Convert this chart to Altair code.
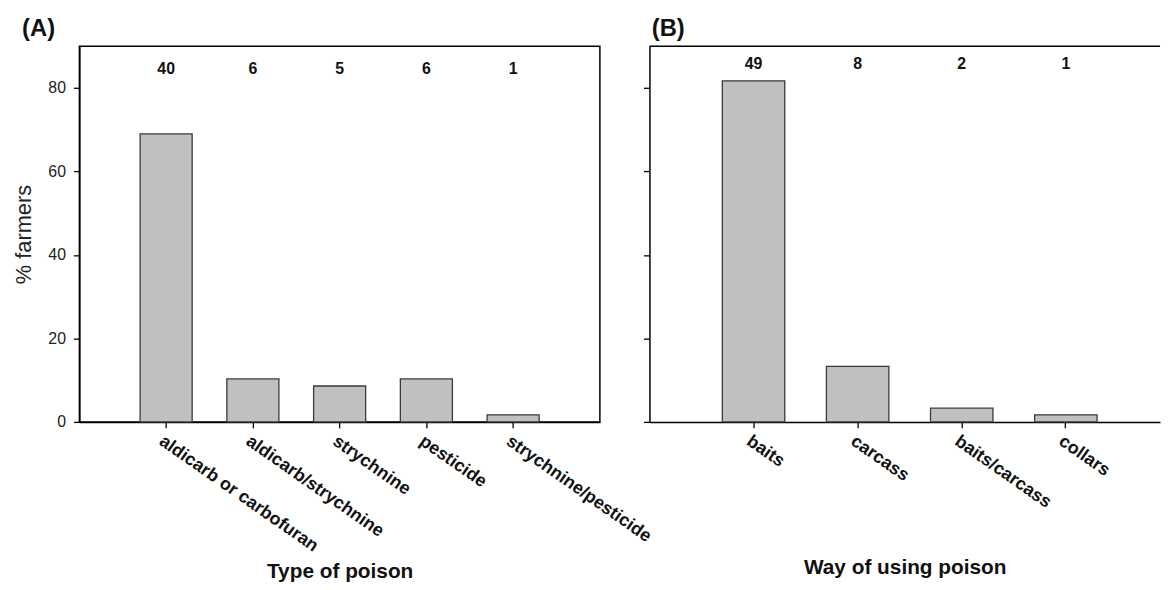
import altair as alt
import pandas as pd

# ---- data ----
poison_types = ["aldicarb or carbofuran", "aldicarb/strychnine", "strychnine",
                "pesticide", "strychnine/pesticide"]
poison_pct = [69.0, 10.3, 8.6, 10.3, 1.7]
poison_n = [40, 6, 5, 6, 1]

use_ways = ["baits", "carcass", "baits/carcass", "collars"]
use_pct = [81.7, 13.3, 3.3, 1.7]
use_n = [49, 8, 2, 1]

y_ticks = [0, 20, 40, 60, 80]

FONT = "Liberation Sans"
BAR_FILL = "#c0c0c0"
BAR_STROKE = "#3a3a3a"

dfA = pd.DataFrame({"cat": poison_types, "pct": poison_pct, "n": poison_n})
dfB = pd.DataFrame({"cat": use_ways, "pct": use_pct, "n": use_n})
frame_df = pd.DataFrame({"k": [0]})

W_A, W_B, H = 525, 515, 379

yscale = alt.Scale(domain=[0, 90], nice=False, zero=True)


def y_axis(show_labels, title):
    return alt.Axis(values=y_ticks, tickSize=6, labelPadding=8, labelFontSize=16,
                    labelFont=FONT, labelColor="#222", grid=False, labels=show_labels,
                    domainColor="#000", domainWidth=1.5, tickColor="#000", tickWidth=1.3,
                    title=title, titleFontSize=22, titleFont=FONT,
                    titleFontWeight="normal", titlePadding=13, titleColor="#222")


def x_axis(title, title_y):
    return alt.Axis(labelAngle=35, labelAlign="left", labelBaseline="top",
                    labelFontSize=18, labelFontWeight="bold", labelFont=FONT,
                    labelColor="#111", labelLimit=400, labelPadding=4,
                    tickSize=6, tickColor="#000", tickWidth=1.3,
                    domainColor="#000", domainWidth=1.5,
                    title=title, titleFontSize=21, titleFontWeight="bold",
                    titleFont=FONT, titleColor="#111", titleY=title_y,
                    titleBaseline="alphabetic")


def panel(df, order, scale_x, xtitle, title_y, ylabels, ytitle, label_y):
    base = alt.Chart(df)
    bars = base.mark_bar(fill=BAR_FILL, stroke=BAR_STROKE, strokeWidth=1.3).encode(
        x=alt.X("cat:N", sort=order, scale=scale_x, axis=x_axis(xtitle, title_y)),
        y=alt.Y("pct:Q", scale=yscale, axis=y_axis(ylabels, ytitle)),
    )
    counts = base.mark_text(fontWeight="bold", fontSize=16, font=FONT,
                            color="#111", baseline="middle").encode(
        x=alt.X("cat:N", sort=order),
        y=alt.datum(label_y),
        text="n:Q",
    )
    return bars, counts


barsA, countsA = panel(dfA, poison_types,
                       alt.Scale(paddingInner=0.4, paddingOuter=0.7),
                       "Type of poison", 157, True, "% farmers", 84.5)
chartA = alt.layer(barsA, countsA).properties(
    width=W_A, height=H,
    view=alt.ViewBackground(stroke="#000", strokeWidth=1.5),
    title=alt.TitleParams("(A)", anchor="start", fontSize=24, fontWeight="bold",
                          font=FONT, dx=10, offset=5, color="#111"),
)

barsB, countsB = panel(dfB, use_ways,
                       alt.Scale(paddingInner=0.4, paddingOuter=0.6524, align=0.5365),
                       "Way of using poison", 153, False, "", 85.6)
top_line = alt.Chart(frame_df).mark_rule(color="#000", strokeWidth=1.5).encode(
    y=alt.datum(90), x=alt.value(0), x2=alt.value(W_B)
)
chartB = alt.layer(barsB, countsB, top_line).properties(
    width=W_B, height=H,
    view=alt.ViewBackground(stroke="transparent"),
    title=alt.TitleParams("(B)", anchor="start", fontSize=24, fontWeight="bold",
                          font=FONT, dx=9, offset=5, color="#111"),
)

chart = alt.hconcat(chartA, chartB, spacing=50, bounds="flush").properties(
    padding={"left": 3, "top": 5, "right": 0, "bottom": 0}
).configure(background="white")

chart.save("out.html", embed_options={"renderer": "svg", "actions": False})
